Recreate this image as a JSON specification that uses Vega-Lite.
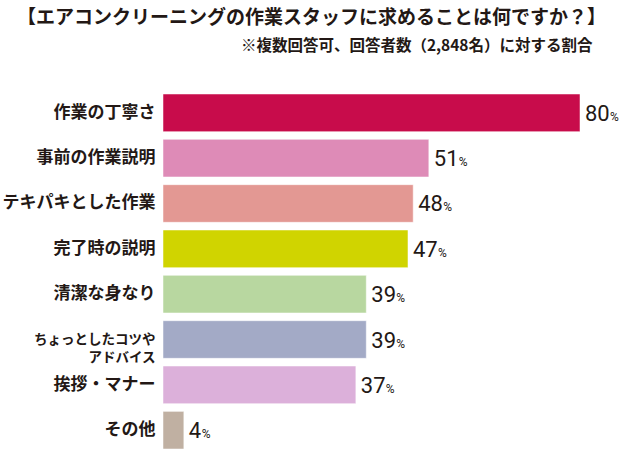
{
  "$schema": "https://vega.github.io/schema/vega-lite/v6.json",
  "width": 417,
  "height": 355,
  "autosize": {"type": "none"},
  "padding": {"left": 163, "top": 94, "right": 43, "bottom": 1},
  "background": "white",
  "title": {
    "text": "【エアコンクリーニングの作業スタッフに求めることは何ですか？】",
    "anchor": "middle",
    "frame": "group",
    "dx": -60,
    "offset": 10,
    "fontSize": 19,
    "font": "Noto Sans CJK JP",
    "fontWeight": "bold",
    "color": "#231815"
  },
  "config": {"view": {"stroke": null}},
  "data": {
    "values": [
      {"item": "作業の丁寧さ", "value": 80, "color": "#C80C4B"},
      {"item": "事前の作業説明", "value": 51, "color": "#DE8BB7"},
      {"item": "テキパキとした作業", "value": 48, "color": "#E39893"},
      {"item": "完了時の説明", "value": 47, "color": "#D0D400"},
      {"item": "清潔な身なり", "value": 39, "color": "#B8D7A0"},
      {"item": "ちょっとしたコツやアドバイス", "value": 39, "color": "#A3AAC6"},
      {"item": "挨拶・マナー", "value": 37, "color": "#DCB0DA"},
      {"item": "その他", "value": 4, "color": "#C0B0A2"}
    ]
  },
  "encoding": {
    "y": {
      "field": "item",
      "type": "nominal",
      "sort": null,
      "scale": {"paddingInner": 0.17, "paddingOuter": 0},
      "axis": {
        "title": null,
        "domain": false,
        "ticks": false,
        "labelPadding": 8,
        "labelFont": "Noto Sans CJK JP",
        "labelFontWeight": "bold",
        "labelColor": "#231815",
        "labelFontSize": {"condition": {"test": "datum.value == 'ちょっとしたコツやアドバイス'", "value": 13.5}, "value": 17},
        "labelLineHeight": 18,
        "labelExpr": "datum.value == 'ちょっとしたコツやアドバイス' ? ['ちょっとしたコツや', 'アドバイス'] : datum.label"
      }
    },
    "x": {
      "field": "value",
      "type": "quantitative",
      "scale": {"domain": [0, 80], "nice": false},
      "axis": {
        "orient": "top",
        "labels": false,
        "ticks": false,
        "domain": false,
        "grid": false,
        "title": "※複数回答可、回答者数（2,848名）に対する割合",
        "titleAnchor": "end",
        "titleAlign": "right",
        "titleBaseline": "middle",
        "titleX": 429,
        "titleY": -49,
        "titleFont": "Noto Sans CJK JP",
        "titleFontSize": 15.5,
        "titleFontWeight": "bold",
        "titleColor": "#231815"
      }
    }
  },
  "layer": [
    {
      "mark": {"type": "bar", "stroke": "white", "strokeWidth": 0.5},
      "encoding": {"color": {"field": "color", "type": "nominal", "scale": null}}
    },
    {
      "mark": {"type": "text", "align": "left", "baseline": "alphabetic", "dx": 5, "dy": 8, "font": "Roboto", "fontSize": 22, "color": "#231815"},
      "encoding": {"text": {"field": "value", "type": "quantitative"}}
    },
    {
      "transform": [{"filter": "datum.value >= 10"}],
      "mark": {"type": "text", "align": "left", "baseline": "alphabetic", "dx": 30, "dy": 8, "font": "Roboto", "fontSize": 12, "color": "#231815", "text": "%"}
    },
    {
      "transform": [{"filter": "datum.value < 10"}],
      "mark": {"type": "text", "align": "left", "baseline": "alphabetic", "dx": 18, "dy": 8, "font": "Roboto", "fontSize": 12, "color": "#231815", "text": "%"}
    }
  ]
}
